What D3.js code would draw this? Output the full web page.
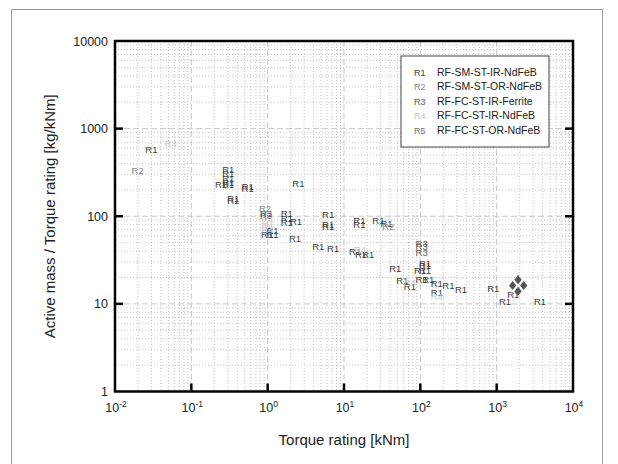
<!DOCTYPE html>
<html>
<head>
<meta charset="utf-8">
<script src="https://cdn.jsdelivr.net/npm/d3@7"></script>
<style>
  body { margin: 0; background: #fff; }
  svg { display: block; font-family: Arial, "Liberation Sans", sans-serif; }
</style>
</head>
<body>
<svg id="chart" width="618" height="464"></svg>
<script>
// Data: [torque kNm, mass/torque kg/kNm]
const r1 = [
  [0.030, 580],
  [0.305, 342], [0.305, 309], [0.305, 271], [0.305, 241], [0.245, 231], [0.305, 231],
  [0.547, 217], [0.547, 204], [2.53, 237],
  [0.355, 157], [0.355, 149],
  [0.98, 61], [1.16, 61], [1.16, 68],
  [1.78, 106], [1.78, 94.6], [1.78, 84.3], [2.35, 86.6], [2.28, 56],
  [6.2, 104], [6.2, 80], [6.2, 76], [4.6, 45], [7.2, 42.3],
  [15.9, 89], [15.9, 80], [28.2, 89], [36, 83],
  [14, 39.4], [16.7, 36.7], [20.8, 36.7],
  [115, 29], [115, 27.2], [47, 25], [99, 24], [115, 24],
  [58, 18.6], [73, 15.9],
  [104, 18.7], [127, 18.7], [164, 17.1], [233, 16.1], [341, 14.6], [904, 15.0],
  [165, 13.4], [1652, 12.6], [1288, 10.6], [3698, 10.6]
]
const r2 = [[0.0198, 331], [0.923, 123], [38, 76]]
const r3 = [[0.95, 106], [0.95, 100.5], [104, 49], [104, 45], [104, 38.7]]
const r4 = [[0.054, 667], [0.99, 90.6], [0.99, 79], [0.99, 69.5], [16.2, 41.9], [73, 17.5], [165, 12]]
const diamonds = [[1905, 18.9], [1620, 16.2], [2260, 16.2], [1905, 13.9]]

const seriesKeys = ['R1', 'R2', 'R3', 'R4', 'R5']
const seriesNames = ['RF-SM-ST-IR-NdFeB', 'RF-SM-ST-OR-NdFeB', 'RF-FC-ST-IR-Ferrite', 'RF-FC-ST-IR-NdFeB', 'RF-FC-ST-OR-NdFeB']
const seriesColors = ['#3c3c3c', '#888888', '#5a5a5a', '#c8c8c8', '#767676']
const seriesData = [r1, r2, r3, r4, []]

const xExp = [-2, -1, 0, 1, 2, 3, 4]
const yTicks = [1, 10, 100, 1000, 10000]

const L = 115, R = 573, T = 41, B = 391.5
const svg = d3.select('#chart')
const x = d3.scaleLog().domain([0.01, 10000]).range([L, R])
const y = d3.scaleLog().domain([1, 10000]).range([B, T])

// Outer border
svg.append('rect').attr('x', 11.5).attr('y', 9.5).attr('width', 591).attr('height', 520)
  .attr('fill', 'none').attr('stroke', '#999').attr('stroke-width', 1)

// Grid
const isMajor = v => Math.abs(Math.log10(v) - Math.round(Math.log10(v))) < 1e-9
const grid = svg.append('g')
x.ticks().filter(v => v > 0.01 && v < 10000).forEach(v => {
  grid.append('line').attr('x1', x(v)).attr('x2', x(v)).attr('y1', T).attr('y2', B)
    .attr('stroke', isMajor(v) ? '#c8c8c8' : '#c4c4c4')
    .attr('stroke-dasharray', isMajor(v) ? '6,3' : '1,2')
})
y.ticks().filter(v => v > 1 && v < 10000).forEach(v => {
  grid.append('line').attr('x1', L).attr('x2', R).attr('y1', y(v)).attr('y2', y(v))
    .attr('stroke', isMajor(v) ? '#c8c8c8' : '#c4c4c4')
    .attr('stroke-dasharray', isMajor(v) ? '6,3' : '1,2')
})

// Data labels
seriesData.forEach((data, i) => {
  svg.append('g').selectAll('text').data(data).enter()
    .append('text')
    .attr('x', d => x(d[0])).attr('y', d => y(d[1]) + 3.3)
    .attr('text-anchor', 'middle')
    .attr('font-size', 9.5)
    .attr('fill', seriesColors[i])
    .text(seriesKeys[i])
})

// Diamonds
svg.append('g').selectAll('path').data(diamonds).enter()
  .append('path')
  .attr('d', d3.symbol(d3.symbolDiamond2, 34))
  .attr('transform', d => `translate(${x(d[0])},${y(d[1])}) scale(1,1.25)`)
  .attr('fill', '#555')

// Frame and inward ticks
svg.append('rect').attr('x', L).attr('y', T).attr('width', R - L).attr('height', B - T)
  .attr('fill', 'none').attr('stroke', '#000').attr('stroke-width', 2.5)
const ticks = svg.append('g').attr('stroke', '#000').attr('stroke-width', 2.5)
xExp.slice(1, -1).forEach(e => {
  ticks.append('line').attr('x1', x(Math.pow(10, e))).attr('x2', x(Math.pow(10, e)))
    .attr('y1', B).attr('y2', B - 8)
})
yTicks.slice(1, -1).forEach(v => {
  ticks.append('line').attr('x1', L).attr('x2', L + 8).attr('y1', y(v)).attr('y2', y(v))
  ticks.append('line').attr('x1', R).attr('x2', R - 8).attr('y1', y(v)).attr('y2', y(v))
})

// Tick labels
svg.append('g').selectAll('text').data(yTicks).enter()
  .append('text')
  .attr('x', L - 7).attr('y', d => y(d) + 4.5)
  .attr('text-anchor', 'end').attr('font-size', 12.5).attr('fill', '#222')
  .text(d => d)
const xl = svg.append('g').selectAll('text').data(xExp).enter()
  .append('text')
  .attr('x', d => x(Math.pow(10, d)) + 1).attr('y', 412)
  .attr('text-anchor', 'middle').attr('font-size', 12.5).attr('fill', '#222')
xl.append('tspan').text('10')
xl.append('tspan').attr('dy', -5).attr('font-size', 8.5).text(d => d)

// Axis titles
svg.append('text').attr('x', (L + R) / 2).attr('y', 445)
  .attr('text-anchor', 'middle').attr('font-size', 15).attr('fill', '#222')
  .text('Torque rating [kNm]')
svg.append('text').attr('transform', `translate(55,${(T + B) / 2}) rotate(-90)`)
  .attr('text-anchor', 'middle').attr('font-size', 15).attr('fill', '#222')
  .text('Active mass / Torque rating [kg/kNm]')

// Legend
const lg = svg.append('g')
lg.append('rect').attr('x', 401).attr('y', 56).attr('width', 148).attr('height', 91)
  .attr('fill', '#fff').attr('stroke', '#444').attr('stroke-width', 1)
seriesKeys.forEach((k, i) => {
  const yy = 75.5 + i * 14.5
  lg.append('text').attr('x', 414).attr('y', yy).attr('font-size', 9).attr('fill', seriesColors[i]).text(k)
  lg.append('text').attr('x', 437).attr('y', yy).attr('font-size', 10.5).attr('fill', '#222').text(seriesNames[i])
})
</script>
</body>
</html>
